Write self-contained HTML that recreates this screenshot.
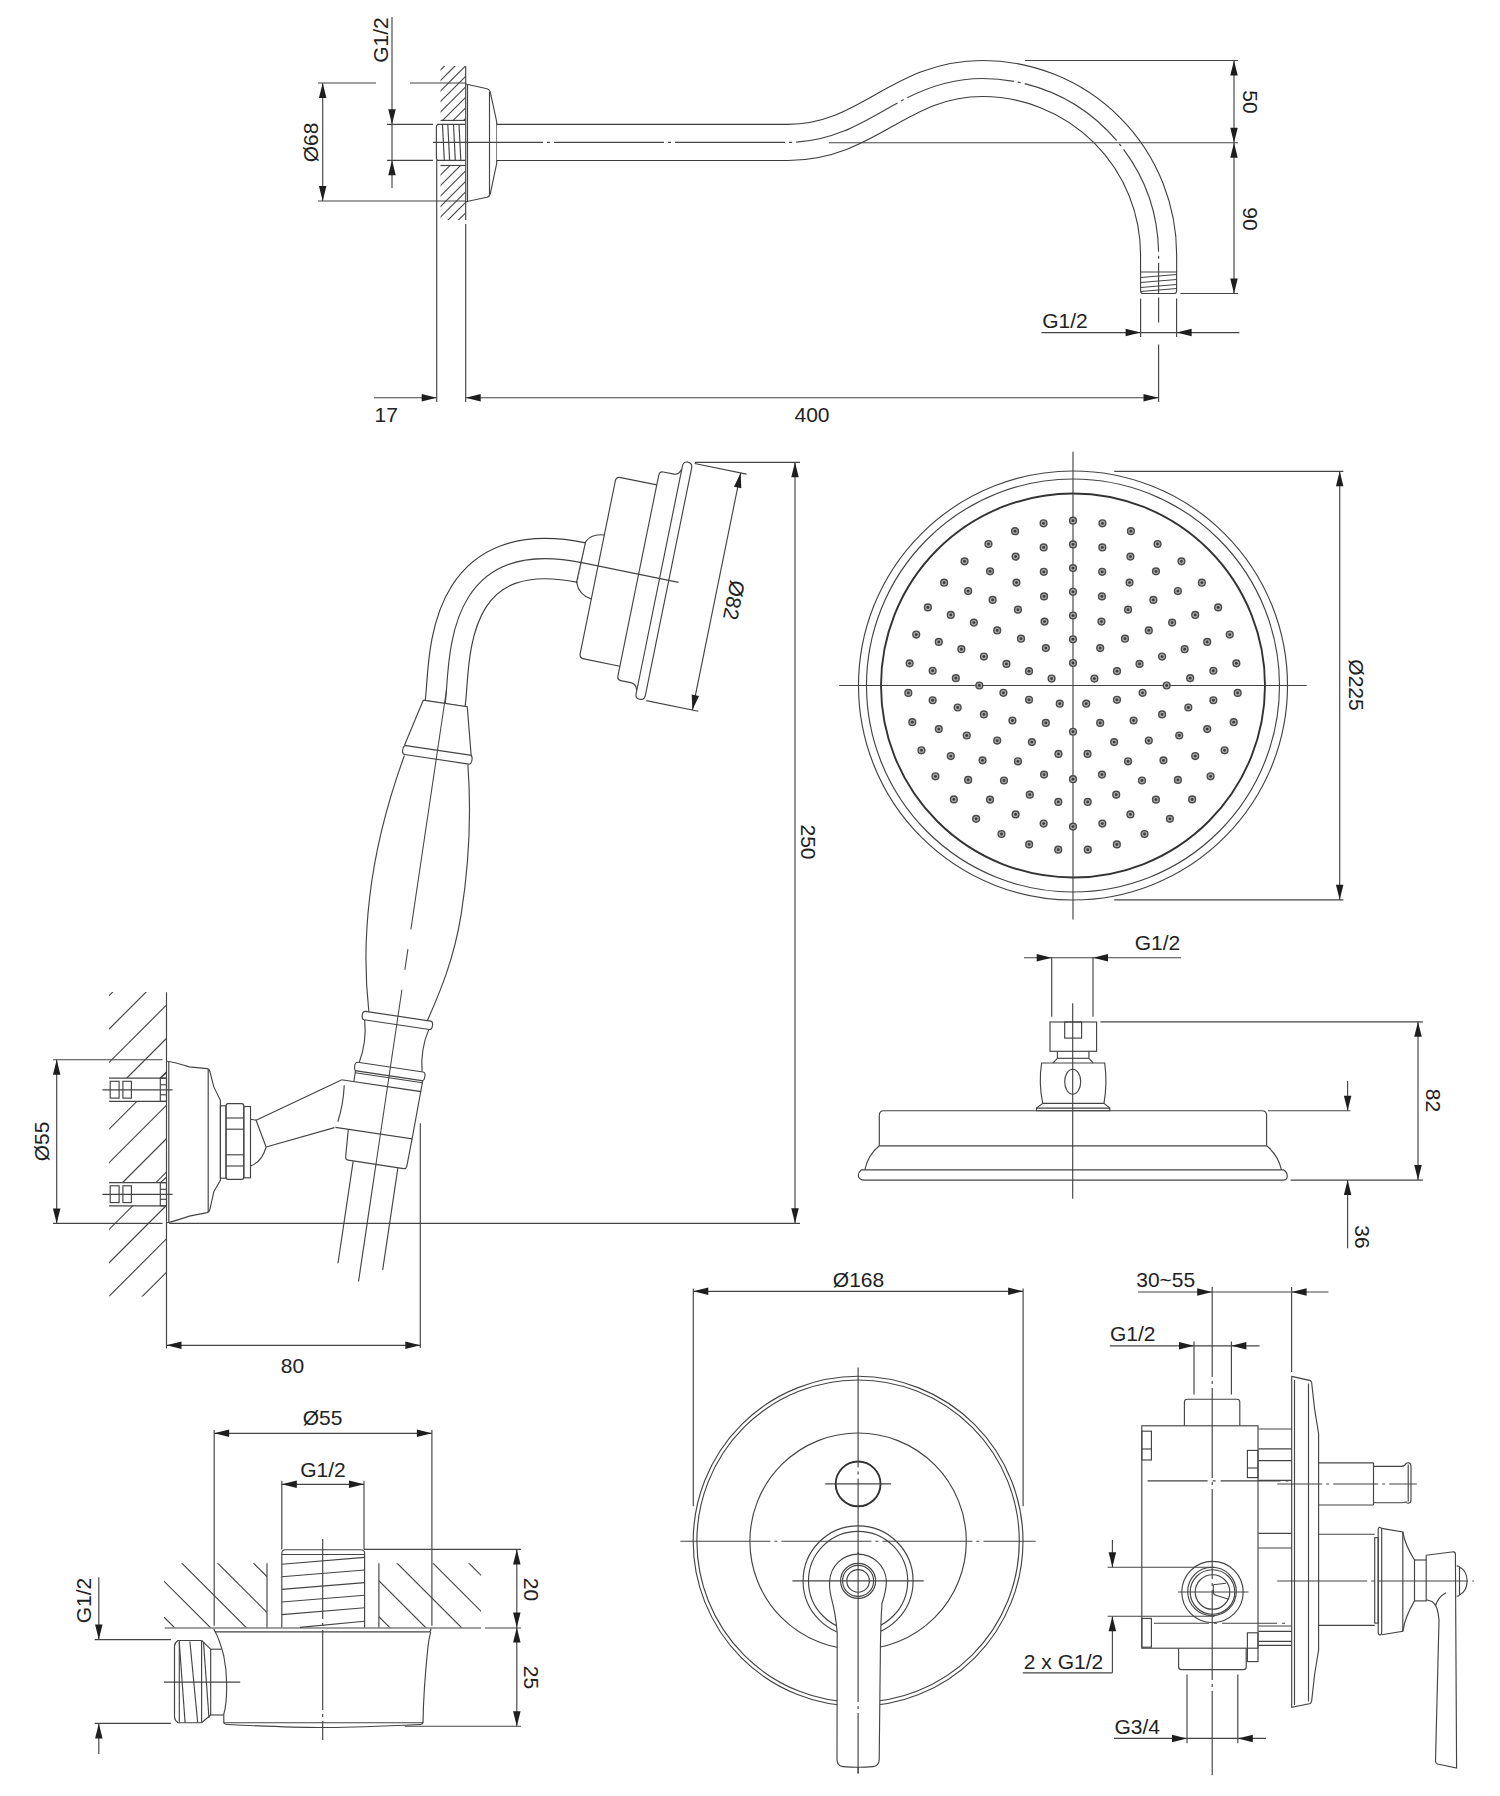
<!DOCTYPE html>
<html><head><meta charset="utf-8"><style>
html,body{margin:0;padding:0;background:#fff;width:1500px;height:1796px;overflow:hidden}
svg{display:block}
line,path,circle,rect,ellipse,polyline{fill:none;stroke:#444;stroke-width:1.15}
.ar{fill:#1e1e1e;stroke:none}
.th{stroke-width:1.9;stroke:#333}
.lt{stroke:#555;stroke-width:1}
.wf{fill:#fff}
.dt{stroke:#4a4a4a;stroke-width:1.4;fill:#a8a8a8}
.dc{fill:#3a3a3a;stroke:none}
text{font-family:"Liberation Sans",sans-serif;fill:#222;stroke:none}
</style></head><body>
<svg width="1500" height="1796" viewBox="0 0 1500 1796">
<text transform="translate(380.00,40.00) rotate(-90)" x="0" y="7.52" font-size="21" text-anchor="middle">G1/2</text>
<line x1="392.00" y1="17.00" x2="392.00" y2="188.00"/>
<path class="ar" d="M392.00,124.30 L388.25,109.30 L395.75,109.30 Z"/>
<path class="ar" d="M392.00,160.30 L395.75,175.30 L388.25,175.30 Z"/>
<line x1="387.00" y1="124.30" x2="433.00" y2="124.30"/>
<line x1="387.00" y1="160.30" x2="433.00" y2="160.30"/>
<text transform="translate(310.50,142.50) rotate(-90)" x="0" y="7.52" font-size="21" text-anchor="middle">Ø68</text>
<line x1="322.70" y1="83.00" x2="322.70" y2="201.00"/>
<path class="ar" d="M322.70,83.00 L326.45,98.00 L318.95,98.00 Z"/>
<path class="ar" d="M322.70,201.00 L318.95,186.00 L326.45,186.00 Z"/>
<line x1="318.00" y1="83.00" x2="376.00" y2="83.00"/>
<line x1="410.00" y1="83.00" x2="466.00" y2="83.00"/>
<line x1="318.00" y1="201.00" x2="466.00" y2="201.00"/>
<line x1="436.70" y1="160.30" x2="436.70" y2="402.00"/>
<line x1="465.70" y1="66.00" x2="465.70" y2="220.00"/>
<line x1="465.70" y1="224.00" x2="465.70" y2="402.00"/>
<line x1="467.50" y1="84.00" x2="467.50" y2="202.00"/>
<clipPath id="h1"><rect x="440.5" y="66" width="25" height="54.5"/><rect x="440.5" y="165.5" width="25" height="54.5"/></clipPath>
<g clip-path="url(#h1)"><line x1="179.0" y1="300" x2="479.0" y2="0"/><line x1="189.5" y1="300" x2="489.5" y2="0"/><line x1="200.0" y1="300" x2="500.0" y2="0"/><line x1="210.5" y1="300" x2="510.5" y2="0"/><line x1="221.0" y1="300" x2="521.0" y2="0"/><line x1="231.5" y1="300" x2="531.5" y2="0"/><line x1="242.0" y1="300" x2="542.0" y2="0"/><line x1="252.5" y1="300" x2="552.5" y2="0"/><line x1="263.0" y1="300" x2="563.0" y2="0"/><line x1="273.5" y1="300" x2="573.5" y2="0"/><line x1="284.0" y1="300" x2="584.0" y2="0"/><line x1="294.5" y1="300" x2="594.5" y2="0"/><line x1="305.0" y1="300" x2="605.0" y2="0"/><line x1="315.5" y1="300" x2="615.5" y2="0"/><line x1="326.0" y1="300" x2="626.0" y2="0"/><line x1="336.5" y1="300" x2="636.5" y2="0"/><line x1="347.0" y1="300" x2="647.0" y2="0"/><line x1="357.5" y1="300" x2="657.5" y2="0"/><line x1="368.0" y1="300" x2="668.0" y2="0"/><line x1="378.5" y1="300" x2="678.5" y2="0"/><line x1="389.0" y1="300" x2="689.0" y2="0"/><line x1="399.5" y1="300" x2="699.5" y2="0"/><line x1="410.0" y1="300" x2="710.0" y2="0"/><line x1="420.5" y1="300" x2="720.5" y2="0"/><line x1="431.0" y1="300" x2="731.0" y2="0"/><line x1="441.5" y1="300" x2="741.5" y2="0"/><line x1="452.0" y1="300" x2="752.0" y2="0"/><line x1="462.5" y1="300" x2="762.5" y2="0"/><line x1="473.0" y1="300" x2="773.0" y2="0"/><line x1="483.5" y1="300" x2="783.5" y2="0"/><line x1="494.0" y1="300" x2="794.0" y2="0"/><line x1="504.5" y1="300" x2="804.5" y2="0"/></g>
<line x1="440.50" y1="120.40" x2="465.70" y2="120.40"/>
<line x1="440.50" y1="165.50" x2="465.70" y2="165.50"/>
<path d="M465.7,84 L487,88.8 Q489.5,89.5 490.2,92 L496.7,121.7 L496.7,163.3 L490.2,194 Q489.5,196.5 487,197.2 L465.7,201.7"/>
<line x1="489.50" y1="92.00" x2="489.50" y2="194.00"/>
<path d="M437.5,124.4 L465.7,124.4 M437.5,160.4 L465.7,160.4 M436.4,127 L436.4,158"/>
<path d="M438,124.4 Q436.4,125 436.4,127 M436.4,158 Q436.4,160 438,160.4"/>
<line x1="442.50" y1="124.40" x2="444.30" y2="160.40"/>
<line x1="447.80" y1="124.40" x2="449.60" y2="160.40"/>
<line x1="453.50" y1="124.40" x2="455.30" y2="160.40"/>
<line x1="459.00" y1="124.40" x2="460.80" y2="160.40"/>
<path d="M496.7,142.4 L788,142.4 C868,142.4 899.3,78.5 982.3,78.5 A176.3,176.3 0 0 1 1158.6,254.8 L1158.6,272" style="stroke:#3c3c3c;stroke-width:37.2"/>
<path d="M496.7,142.4 L788,142.4 C868,142.4 899.3,78.5 982.3,78.5 A176.3,176.3 0 0 1 1158.6,254.8 L1158.6,272" style="stroke:#fff;stroke-width:35"/>
<path d="M433,142.4 L788,142.4 C868,142.4 899.3,78.5 982.3,78.5 A176.3,176.3 0 0 1 1158.6,254.8 L1158.6,293.5" style="stroke-dasharray:110,4,3,4"/>
<line x1="829.00" y1="142.70" x2="1238.00" y2="142.70"/>
<path d="M1140.6,272 L1176.6,272 L1176.6,291 Q1176.6,293.5 1174,293.5 L1143,293.5 Q1140.6,293.5 1140.6,291 Z"/>
<line x1="1140.60" y1="277.50" x2="1176.60" y2="274.50"/>
<line x1="1140.60" y1="282.50" x2="1176.60" y2="279.50"/>
<line x1="1140.60" y1="287.50" x2="1176.60" y2="284.50"/>
<line x1="1140.60" y1="291.50" x2="1176.60" y2="288.50"/>
<line x1="1025.00" y1="60.50" x2="1238.00" y2="60.50"/>
<line x1="1180.50" y1="293.50" x2="1238.00" y2="293.50"/>
<line x1="1234.00" y1="60.50" x2="1234.00" y2="293.50"/>
<path class="ar" d="M1234.00,60.50 L1237.75,75.50 L1230.25,75.50 Z"/>
<path class="ar" d="M1234.00,142.70 L1230.25,127.70 L1237.75,127.70 Z"/>
<path class="ar" d="M1234.00,142.70 L1237.75,157.70 L1230.25,157.70 Z"/>
<path class="ar" d="M1234.00,293.50 L1230.25,278.50 L1237.75,278.50 Z"/>
<text transform="translate(1250.50,102.00) rotate(90)" x="0" y="7.52" font-size="21" text-anchor="middle">50</text>
<text transform="translate(1250.50,219.00) rotate(90)" x="0" y="7.52" font-size="21" text-anchor="middle">90</text>
<line x1="1041.50" y1="332.60" x2="1239.40" y2="332.60"/>
<path class="ar" d="M1140.60,332.60 L1125.60,336.35 L1125.60,328.85 Z"/>
<path class="ar" d="M1176.60,332.60 L1191.60,328.85 L1191.60,336.35 Z"/>
<line x1="1158.60" y1="297.50" x2="1158.60" y2="322.50"/>
<line x1="1158.60" y1="344.50" x2="1158.60" y2="402.00"/>
<text transform="translate(1065.00,320.20) rotate(0)" x="0" y="7.52" font-size="21" text-anchor="middle">G1/2</text>
<line x1="1140.60" y1="298.50" x2="1140.60" y2="337.00"/>
<line x1="1176.60" y1="298.50" x2="1176.60" y2="337.00"/>
<line x1="374.00" y1="397.70" x2="436.70" y2="397.70"/>
<path class="ar" d="M436.70,397.70 L421.70,401.45 L421.70,393.95 Z"/>
<line x1="465.70" y1="397.70" x2="1158.50" y2="397.70"/>
<path class="ar" d="M465.70,397.70 L480.70,393.95 L480.70,401.45 Z"/>
<path class="ar" d="M1158.50,397.70 L1143.50,401.45 L1143.50,393.95 Z"/>
<text transform="translate(386.20,414.00) rotate(0)" x="0" y="7.52" font-size="21" text-anchor="middle">17</text>
<text transform="translate(812.00,414.00) rotate(0)" x="0" y="7.52" font-size="21" text-anchor="middle">400</text>
<line x1="695.00" y1="462.30" x2="800.00" y2="462.30"/>
<line x1="795.00" y1="462.30" x2="795.00" y2="1223.30"/>
<path class="ar" d="M795.00,462.30 L798.75,477.30 L791.25,477.30 Z"/>
<path class="ar" d="M795.00,1223.30 L791.25,1208.30 L798.75,1208.30 Z"/>
<text transform="translate(809.00,842.00) rotate(90)" x="0" y="7.52" font-size="21" text-anchor="middle">250</text>
<line x1="53.00" y1="1223.40" x2="162.50" y2="1223.40"/>
<line x1="169.20" y1="1223.40" x2="800.00" y2="1223.40"/>
<line x1="420.30" y1="1123.30" x2="420.30" y2="1348.00"/>
<line x1="166.50" y1="1345.30" x2="420.30" y2="1345.30"/>
<path class="ar" d="M166.50,1345.30 L181.50,1341.55 L181.50,1349.05 Z"/>
<path class="ar" d="M420.30,1345.30 L405.30,1349.05 L405.30,1341.55 Z"/>
<text transform="translate(292.50,1365.00) rotate(0)" x="0" y="7.52" font-size="21" text-anchor="middle">80</text>
<line x1="53.00" y1="1059.70" x2="162.50" y2="1059.70"/>
<line x1="56.70" y1="1059.70" x2="56.70" y2="1223.40"/>
<path class="ar" d="M56.70,1059.70 L60.45,1074.70 L52.95,1074.70 Z"/>
<path class="ar" d="M56.70,1223.40 L52.95,1208.40 L60.45,1208.40 Z"/>
<text transform="translate(41.00,1141.50) rotate(-90)" x="0" y="7.52" font-size="21" text-anchor="middle">Ø55</text>
<line x1="166.50" y1="992.20" x2="166.50" y2="1348.60"/>
<clipPath id="h2"><path d="M109.1,992 H166.5 V1078 H109.1 Z M109.1,1101.4 H166.5 V1182.2 H109.1 Z M109.1,1205.4 H166.5 V1296.5 H109.1 Z"/></clipPath>
<g clip-path="url(#h2)"><line x1="100.0" y1="1004.7" x2="180.0" y2="924.7"/><line x1="100.0" y1="1038.1" x2="180.0" y2="958.1"/><line x1="100.0" y1="1071.5" x2="180.0" y2="991.5"/><line x1="100.0" y1="1104.9" x2="180.0" y2="1024.9"/><line x1="100.0" y1="1138.3" x2="180.0" y2="1058.3"/><line x1="100.0" y1="1171.7" x2="180.0" y2="1091.7"/><line x1="100.0" y1="1205.1" x2="180.0" y2="1125.1"/><line x1="100.0" y1="1238.5" x2="180.0" y2="1158.5"/><line x1="100.0" y1="1271.9" x2="180.0" y2="1191.9"/><line x1="100.0" y1="1305.3" x2="180.0" y2="1225.3"/><line x1="100.0" y1="1338.7" x2="180.0" y2="1258.7"/></g>
<line x1="109.10" y1="1078.10" x2="166.50" y2="1078.10"/>
<line x1="109.10" y1="1101.40" x2="166.50" y2="1101.40"/>
<line x1="102.40" y1="1089.80" x2="172.60" y2="1089.80"/>
<rect x="110.20" y="1081.30" width="8.90" height="16.80"/>
<rect x="122.90" y="1081.30" width="8.50" height="16.80"/>
<rect x="160.30" y="1078.10" width="6.20" height="23.30"/>
<line x1="160.30" y1="1084.80" x2="166.50" y2="1084.80"/>
<line x1="160.30" y1="1094.80" x2="166.50" y2="1094.80"/>
<line x1="160.30" y1="1078.10" x2="166.50" y2="1072.80"/>
<line x1="109.10" y1="1182.60" x2="166.50" y2="1182.60"/>
<line x1="109.10" y1="1205.90" x2="166.50" y2="1205.90"/>
<line x1="102.40" y1="1194.30" x2="172.60" y2="1194.30"/>
<rect x="110.20" y="1185.80" width="8.90" height="16.80"/>
<rect x="122.90" y="1185.80" width="8.50" height="16.80"/>
<rect x="160.30" y="1182.60" width="6.20" height="23.30"/>
<line x1="160.30" y1="1189.30" x2="166.50" y2="1189.30"/>
<line x1="160.30" y1="1199.30" x2="166.50" y2="1199.30"/>
<line x1="160.30" y1="1182.60" x2="166.50" y2="1177.30"/>
<path d="M167,1061.3 Q172,1061.5 189.3,1066.9 L207.1,1068.6 Q209.5,1069 210,1072 L213.8,1086.9 L220.4,1100.3 L220.4,1180.4 L213.8,1191.6 L210,1209 Q209.5,1212 207.1,1212.6 L189.3,1216.1 Q172,1222 167,1222.8"/>
<line x1="168.80" y1="1062.00" x2="168.80" y2="1222.00"/>
<line x1="208.20" y1="1069.50" x2="208.20" y2="1212.50"/>
<rect x="220.40" y="1105.80" width="5.60" height="72.40"/>
<path d="M228,1103.6 H241.8 Q243.8,1103.6 243.8,1106 V1177 Q243.8,1179.3 241.8,1179.3 H228 Q226,1179.3 226,1177 V1106 Q226,1103.6 228,1103.6 Z"/>
<line x1="226.00" y1="1118.00" x2="243.80" y2="1118.00"/>
<line x1="226.00" y1="1129.20" x2="243.80" y2="1129.20"/>
<line x1="226.00" y1="1154.80" x2="243.80" y2="1154.80"/>
<line x1="226.00" y1="1166.00" x2="243.80" y2="1166.00"/>
<rect x="243.80" y="1106.50" width="6.70" height="71.30"/>
<path d="M250.5,1119.2 Q254,1119.5 256.1,1120.3 L266.1,1147 Q262,1162 250.5,1166"/>
<line x1="256.10" y1="1120.30" x2="341.40" y2="1080.10"/>
<line x1="266.10" y1="1147.00" x2="334.50" y2="1127.60"/>
<path d="M581.6,562.6 C439.7,533.8 450.4,668.2 445.2,703.2" style="stroke:#3c3c3c;stroke-width:41.45"/>
<path d="M581.6,562.6 C439.7,533.8 450.4,668.2 445.2,703.2" style="stroke:#fff;stroke-width:39.15"/>
<path d="M581.6,562.6 C439.7,533.8 450.4,668.2 445.2,703.2"/>
<g transform="translate(668.5,581.7) rotate(11.5)"><path d="M-5,-121 Q0,-121 0,-116 V116 Q0,121 -5,121 Q-9.4,121 -9.4,116 V-116 Q-9.4,-121 -5,-121 Z"/><path d="M-9.4,-113 Q-11.5,-106.5 -16,-106.5 H-27 Q-30.8,-106.5 -30.8,-102 V102 Q-30.8,106.5 -27,106.5 H-16 Q-11.5,106.5 -9.4,113"/><path d="M-30.8,-92.5 H-67.5 Q-72.2,-92.5 -72.2,-88 V88 Q-72.2,92.5 -67.5,92.5 H-30.8"/><path d="M-72.2,-33 Q-85,-32 -89.2,-22.7 L-90,18.9 Q-85,31 -72.2,32.3"/><line x1="-90" y1="-1.4" x2="10" y2="-1.4"/></g>
<g transform="translate(668.5,581.7) rotate(11.5)"><line x1="2" y1="-121" x2="55" y2="-121"/><line x1="2" y1="121" x2="55" y2="121"/><line x1="49" y1="-121" x2="49" y2="121"/></g>
<path class="ar" d="M740.64,472.90 L741.32,488.34 L733.97,486.85 Z"/>
<path class="ar" d="M692.39,710.04 L691.71,694.59 L699.06,696.09 Z"/>
<text transform="translate(734.14,600.16) rotate(101.5)" x="0" y="7.52" font-size="21" text-anchor="middle">Ø82</text>
<g transform="translate(446.5,690) rotate(8.46)"><path d="M-21.5,13.5 L23,13.5 L34,61 M-21.5,13.5 L-33.5,61"/><path d="M-32,61 H33 Q35.5,61 35.5,65.5 Q35.5,70 33,70 H-32 Q-34.5,70 -34.5,65.5 Q-34.5,61 -32,61 Z"/><path d="M-32,71 C-42,120 -47,170 -45.5,216 C-44,270 -36,305 -29.5,329.5"/><path d="M32.2,71 C42,115 48,170 47.5,220 C47,265 38,300 29.8,329.5"/><path d="M-33,329.8 H33 Q35.5,329.8 35.5,334 Q35.5,338.3 33,338.3 H-33 Q-35.5,338.3 -35.5,334 Q-35.5,329.8 -33,329.8 Z"/><path d="M-32.4,338.3 Q-27,360 -31.5,381 M32.4,338.3 Q27,360 32,381"/><path d="M-33,381.3 H33 Q35.5,381.3 35.5,385.5 Q35.5,390 33,390 H-33 Q-35.5,390 -35.5,385.5 Q-35.5,381.3 -33,381.3 Z"/><line x1="-34" y1="392" x2="34" y2="392"/><path d="M-34,390 V401 M34,390 L33.6,401"/><path d="M-46.6,401 L33.6,401 L32,449 L-45.5,449"/><path d="M-43,406 Q-41,425 -44,443"/><path d="M-32.5,449 L-31.1,476 Q-31,479.5 -28,479.5 L28,479.7 Q30.5,479.7 30.8,477 L32,449"/><path d="M-23,480 V583 M22.2,480 V583 M0,480 V598"/><path d="M0,0 V242 M0,262 V283 M0,303 V480" style="stroke-width:1.05"/></g>
<circle cx="1073.00" cy="685.50" r="214.50"/>
<circle cx="1073.00" cy="685.50" r="206.50"/>
<circle cx="1073.00" cy="685.50" r="192.00" class="th"/>
<line x1="839.20" y1="685.50" x2="1306.70" y2="685.50"/>
<line x1="1073.00" y1="451.80" x2="1073.00" y2="919.40"/>
<line x1="1114.20" y1="471.30" x2="1343.40" y2="471.30"/>
<line x1="1114.20" y1="899.80" x2="1343.40" y2="899.80"/>
<line x1="1339.70" y1="471.30" x2="1339.70" y2="899.80"/>
<path class="ar" d="M1339.70,471.30 L1343.45,486.30 L1335.95,486.30 Z"/>
<path class="ar" d="M1339.70,899.80 L1335.95,884.80 L1343.45,884.80 Z"/>
<text transform="translate(1356.50,685.00) rotate(90)" x="0" y="7.52" font-size="21" text-anchor="middle">Ø225</text>
<g><circle cx="1094.42" cy="678.54" r="3.4" class="dt"/><circle cx="1094.42" cy="678.54" r="1.4" class="dc"/><circle cx="1073.00" cy="662.98" r="3.4" class="dt"/><circle cx="1073.00" cy="662.98" r="1.4" class="dc"/><circle cx="1051.58" cy="678.54" r="3.4" class="dt"/><circle cx="1051.58" cy="678.54" r="1.4" class="dc"/><circle cx="1059.76" cy="703.72" r="3.4" class="dt"/><circle cx="1059.76" cy="703.72" r="1.4" class="dc"/><circle cx="1086.24" cy="703.72" r="3.4" class="dt"/><circle cx="1086.24" cy="703.72" r="1.4" class="dc"/><circle cx="1116.98" cy="671.21" r="3.4" class="dt"/><circle cx="1116.98" cy="671.21" r="1.4" class="dc"/><circle cx="1100.18" cy="648.09" r="3.4" class="dt"/><circle cx="1100.18" cy="648.09" r="1.4" class="dc"/><circle cx="1073.00" cy="639.26" r="3.4" class="dt"/><circle cx="1073.00" cy="639.26" r="1.4" class="dc"/><circle cx="1045.82" cy="648.09" r="3.4" class="dt"/><circle cx="1045.82" cy="648.09" r="1.4" class="dc"/><circle cx="1029.02" cy="671.21" r="3.4" class="dt"/><circle cx="1029.02" cy="671.21" r="1.4" class="dc"/><circle cx="1029.02" cy="699.79" r="3.4" class="dt"/><circle cx="1029.02" cy="699.79" r="1.4" class="dc"/><circle cx="1045.82" cy="722.91" r="3.4" class="dt"/><circle cx="1045.82" cy="722.91" r="1.4" class="dc"/><circle cx="1073.00" cy="731.74" r="3.4" class="dt"/><circle cx="1073.00" cy="731.74" r="1.4" class="dc"/><circle cx="1100.18" cy="722.91" r="3.4" class="dt"/><circle cx="1100.18" cy="722.91" r="1.4" class="dc"/><circle cx="1116.98" cy="699.79" r="3.4" class="dt"/><circle cx="1116.98" cy="699.79" r="1.4" class="dc"/><circle cx="1139.54" cy="663.88" r="3.4" class="dt"/><circle cx="1139.54" cy="663.88" r="1.4" class="dc"/><circle cx="1124.99" cy="638.69" r="3.4" class="dt"/><circle cx="1124.99" cy="638.69" r="1.4" class="dc"/><circle cx="1101.46" cy="621.59" r="3.4" class="dt"/><circle cx="1101.46" cy="621.59" r="1.4" class="dc"/><circle cx="1073.00" cy="615.54" r="3.4" class="dt"/><circle cx="1073.00" cy="615.54" r="1.4" class="dc"/><circle cx="1044.54" cy="621.59" r="3.4" class="dt"/><circle cx="1044.54" cy="621.59" r="1.4" class="dc"/><circle cx="1021.01" cy="638.69" r="3.4" class="dt"/><circle cx="1021.01" cy="638.69" r="1.4" class="dc"/><circle cx="1006.46" cy="663.88" r="3.4" class="dt"/><circle cx="1006.46" cy="663.88" r="1.4" class="dc"/><circle cx="1003.42" cy="692.81" r="3.4" class="dt"/><circle cx="1003.42" cy="692.81" r="1.4" class="dc"/><circle cx="1012.41" cy="720.48" r="3.4" class="dt"/><circle cx="1012.41" cy="720.48" r="1.4" class="dc"/><circle cx="1031.88" cy="742.10" r="3.4" class="dt"/><circle cx="1031.88" cy="742.10" r="1.4" class="dc"/><circle cx="1058.45" cy="753.93" r="3.4" class="dt"/><circle cx="1058.45" cy="753.93" r="1.4" class="dc"/><circle cx="1087.55" cy="753.93" r="3.4" class="dt"/><circle cx="1087.55" cy="753.93" r="1.4" class="dc"/><circle cx="1114.12" cy="742.10" r="3.4" class="dt"/><circle cx="1114.12" cy="742.10" r="1.4" class="dc"/><circle cx="1133.59" cy="720.48" r="3.4" class="dt"/><circle cx="1133.59" cy="720.48" r="1.4" class="dc"/><circle cx="1142.58" cy="692.81" r="3.4" class="dt"/><circle cx="1142.58" cy="692.81" r="1.4" class="dc"/><circle cx="1162.09" cy="656.55" r="3.4" class="dt"/><circle cx="1162.09" cy="656.55" r="1.4" class="dc"/><circle cx="1148.79" cy="630.44" r="3.4" class="dt"/><circle cx="1148.79" cy="630.44" r="1.4" class="dc"/><circle cx="1128.06" cy="609.71" r="3.4" class="dt"/><circle cx="1128.06" cy="609.71" r="1.4" class="dc"/><circle cx="1101.95" cy="596.41" r="3.4" class="dt"/><circle cx="1101.95" cy="596.41" r="1.4" class="dc"/><circle cx="1073.00" cy="591.82" r="3.4" class="dt"/><circle cx="1073.00" cy="591.82" r="1.4" class="dc"/><circle cx="1044.05" cy="596.41" r="3.4" class="dt"/><circle cx="1044.05" cy="596.41" r="1.4" class="dc"/><circle cx="1017.94" cy="609.71" r="3.4" class="dt"/><circle cx="1017.94" cy="609.71" r="1.4" class="dc"/><circle cx="997.21" cy="630.44" r="3.4" class="dt"/><circle cx="997.21" cy="630.44" r="1.4" class="dc"/><circle cx="983.91" cy="656.55" r="3.4" class="dt"/><circle cx="983.91" cy="656.55" r="1.4" class="dc"/><circle cx="979.32" cy="685.50" r="3.4" class="dt"/><circle cx="979.32" cy="685.50" r="1.4" class="dc"/><circle cx="983.91" cy="714.45" r="3.4" class="dt"/><circle cx="983.91" cy="714.45" r="1.4" class="dc"/><circle cx="997.21" cy="740.56" r="3.4" class="dt"/><circle cx="997.21" cy="740.56" r="1.4" class="dc"/><circle cx="1017.94" cy="761.29" r="3.4" class="dt"/><circle cx="1017.94" cy="761.29" r="1.4" class="dc"/><circle cx="1044.05" cy="774.59" r="3.4" class="dt"/><circle cx="1044.05" cy="774.59" r="1.4" class="dc"/><circle cx="1073.00" cy="779.18" r="3.4" class="dt"/><circle cx="1073.00" cy="779.18" r="1.4" class="dc"/><circle cx="1101.95" cy="774.59" r="3.4" class="dt"/><circle cx="1101.95" cy="774.59" r="1.4" class="dc"/><circle cx="1128.06" cy="761.29" r="3.4" class="dt"/><circle cx="1128.06" cy="761.29" r="1.4" class="dc"/><circle cx="1148.79" cy="740.56" r="3.4" class="dt"/><circle cx="1148.79" cy="740.56" r="1.4" class="dc"/><circle cx="1162.09" cy="714.45" r="3.4" class="dt"/><circle cx="1162.09" cy="714.45" r="1.4" class="dc"/><circle cx="1166.68" cy="685.50" r="3.4" class="dt"/><circle cx="1166.68" cy="685.50" r="1.4" class="dc"/><circle cx="1184.65" cy="649.22" r="3.4" class="dt"/><circle cx="1184.65" cy="649.22" r="1.4" class="dc"/><circle cx="1172.12" cy="622.59" r="3.4" class="dt"/><circle cx="1172.12" cy="622.59" r="1.4" class="dc"/><circle cx="1153.37" cy="599.92" r="3.4" class="dt"/><circle cx="1153.37" cy="599.92" r="1.4" class="dc"/><circle cx="1129.56" cy="582.62" r="3.4" class="dt"/><circle cx="1129.56" cy="582.62" r="1.4" class="dc"/><circle cx="1102.20" cy="571.79" r="3.4" class="dt"/><circle cx="1102.20" cy="571.79" r="1.4" class="dc"/><circle cx="1073.00" cy="568.10" r="3.4" class="dt"/><circle cx="1073.00" cy="568.10" r="1.4" class="dc"/><circle cx="1043.80" cy="571.79" r="3.4" class="dt"/><circle cx="1043.80" cy="571.79" r="1.4" class="dc"/><circle cx="1016.44" cy="582.62" r="3.4" class="dt"/><circle cx="1016.44" cy="582.62" r="1.4" class="dc"/><circle cx="992.63" cy="599.92" r="3.4" class="dt"/><circle cx="992.63" cy="599.92" r="1.4" class="dc"/><circle cx="973.88" cy="622.59" r="3.4" class="dt"/><circle cx="973.88" cy="622.59" r="1.4" class="dc"/><circle cx="961.35" cy="649.22" r="3.4" class="dt"/><circle cx="961.35" cy="649.22" r="1.4" class="dc"/><circle cx="955.83" cy="678.13" r="3.4" class="dt"/><circle cx="955.83" cy="678.13" r="1.4" class="dc"/><circle cx="957.68" cy="707.50" r="3.4" class="dt"/><circle cx="957.68" cy="707.50" r="1.4" class="dc"/><circle cx="966.77" cy="735.49" r="3.4" class="dt"/><circle cx="966.77" cy="735.49" r="1.4" class="dc"/><circle cx="982.54" cy="760.33" r="3.4" class="dt"/><circle cx="982.54" cy="760.33" r="1.4" class="dc"/><circle cx="1003.99" cy="780.48" r="3.4" class="dt"/><circle cx="1003.99" cy="780.48" r="1.4" class="dc"/><circle cx="1029.78" cy="794.66" r="3.4" class="dt"/><circle cx="1029.78" cy="794.66" r="1.4" class="dc"/><circle cx="1058.29" cy="801.97" r="3.4" class="dt"/><circle cx="1058.29" cy="801.97" r="1.4" class="dc"/><circle cx="1087.71" cy="801.97" r="3.4" class="dt"/><circle cx="1087.71" cy="801.97" r="1.4" class="dc"/><circle cx="1116.22" cy="794.66" r="3.4" class="dt"/><circle cx="1116.22" cy="794.66" r="1.4" class="dc"/><circle cx="1142.01" cy="780.48" r="3.4" class="dt"/><circle cx="1142.01" cy="780.48" r="1.4" class="dc"/><circle cx="1163.46" cy="760.33" r="3.4" class="dt"/><circle cx="1163.46" cy="760.33" r="1.4" class="dc"/><circle cx="1179.23" cy="735.49" r="3.4" class="dt"/><circle cx="1179.23" cy="735.49" r="1.4" class="dc"/><circle cx="1188.32" cy="707.50" r="3.4" class="dt"/><circle cx="1188.32" cy="707.50" r="1.4" class="dc"/><circle cx="1190.17" cy="678.13" r="3.4" class="dt"/><circle cx="1190.17" cy="678.13" r="1.4" class="dc"/><circle cx="1207.21" cy="641.89" r="3.4" class="dt"/><circle cx="1207.21" cy="641.89" r="1.4" class="dc"/><circle cx="1195.21" cy="614.94" r="3.4" class="dt"/><circle cx="1195.21" cy="614.94" r="1.4" class="dc"/><circle cx="1177.87" cy="591.07" r="3.4" class="dt"/><circle cx="1177.87" cy="591.07" r="1.4" class="dc"/><circle cx="1155.95" cy="571.33" r="3.4" class="dt"/><circle cx="1155.95" cy="571.33" r="1.4" class="dc"/><circle cx="1130.40" cy="556.58" r="3.4" class="dt"/><circle cx="1130.40" cy="556.58" r="1.4" class="dc"/><circle cx="1102.34" cy="547.46" r="3.4" class="dt"/><circle cx="1102.34" cy="547.46" r="1.4" class="dc"/><circle cx="1073.00" cy="544.38" r="3.4" class="dt"/><circle cx="1073.00" cy="544.38" r="1.4" class="dc"/><circle cx="1043.66" cy="547.46" r="3.4" class="dt"/><circle cx="1043.66" cy="547.46" r="1.4" class="dc"/><circle cx="1015.60" cy="556.58" r="3.4" class="dt"/><circle cx="1015.60" cy="556.58" r="1.4" class="dc"/><circle cx="990.05" cy="571.33" r="3.4" class="dt"/><circle cx="990.05" cy="571.33" r="1.4" class="dc"/><circle cx="968.13" cy="591.07" r="3.4" class="dt"/><circle cx="968.13" cy="591.07" r="1.4" class="dc"/><circle cx="950.79" cy="614.94" r="3.4" class="dt"/><circle cx="950.79" cy="614.94" r="1.4" class="dc"/><circle cx="938.79" cy="641.89" r="3.4" class="dt"/><circle cx="938.79" cy="641.89" r="1.4" class="dc"/><circle cx="932.65" cy="670.75" r="3.4" class="dt"/><circle cx="932.65" cy="670.75" r="1.4" class="dc"/><circle cx="932.65" cy="700.25" r="3.4" class="dt"/><circle cx="932.65" cy="700.25" r="1.4" class="dc"/><circle cx="938.79" cy="729.11" r="3.4" class="dt"/><circle cx="938.79" cy="729.11" r="1.4" class="dc"/><circle cx="950.79" cy="756.06" r="3.4" class="dt"/><circle cx="950.79" cy="756.06" r="1.4" class="dc"/><circle cx="968.13" cy="779.93" r="3.4" class="dt"/><circle cx="968.13" cy="779.93" r="1.4" class="dc"/><circle cx="990.05" cy="799.67" r="3.4" class="dt"/><circle cx="990.05" cy="799.67" r="1.4" class="dc"/><circle cx="1015.60" cy="814.42" r="3.4" class="dt"/><circle cx="1015.60" cy="814.42" r="1.4" class="dc"/><circle cx="1043.66" cy="823.54" r="3.4" class="dt"/><circle cx="1043.66" cy="823.54" r="1.4" class="dc"/><circle cx="1073.00" cy="826.62" r="3.4" class="dt"/><circle cx="1073.00" cy="826.62" r="1.4" class="dc"/><circle cx="1102.34" cy="823.54" r="3.4" class="dt"/><circle cx="1102.34" cy="823.54" r="1.4" class="dc"/><circle cx="1130.40" cy="814.42" r="3.4" class="dt"/><circle cx="1130.40" cy="814.42" r="1.4" class="dc"/><circle cx="1155.95" cy="799.67" r="3.4" class="dt"/><circle cx="1155.95" cy="799.67" r="1.4" class="dc"/><circle cx="1177.87" cy="779.93" r="3.4" class="dt"/><circle cx="1177.87" cy="779.93" r="1.4" class="dc"/><circle cx="1195.21" cy="756.06" r="3.4" class="dt"/><circle cx="1195.21" cy="756.06" r="1.4" class="dc"/><circle cx="1207.21" cy="729.11" r="3.4" class="dt"/><circle cx="1207.21" cy="729.11" r="1.4" class="dc"/><circle cx="1213.35" cy="700.25" r="3.4" class="dt"/><circle cx="1213.35" cy="700.25" r="1.4" class="dc"/><circle cx="1213.35" cy="670.75" r="3.4" class="dt"/><circle cx="1213.35" cy="670.75" r="1.4" class="dc"/><circle cx="1229.77" cy="634.56" r="3.4" class="dt"/><circle cx="1229.77" cy="634.56" r="1.4" class="dc"/><circle cx="1218.16" cy="607.39" r="3.4" class="dt"/><circle cx="1218.16" cy="607.39" r="1.4" class="dc"/><circle cx="1201.88" cy="582.72" r="3.4" class="dt"/><circle cx="1201.88" cy="582.72" r="1.4" class="dc"/><circle cx="1181.45" cy="561.36" r="3.4" class="dt"/><circle cx="1181.45" cy="561.36" r="1.4" class="dc"/><circle cx="1157.55" cy="543.99" r="3.4" class="dt"/><circle cx="1157.55" cy="543.99" r="1.4" class="dc"/><circle cx="1130.92" cy="531.17" r="3.4" class="dt"/><circle cx="1130.92" cy="531.17" r="1.4" class="dc"/><circle cx="1102.43" cy="523.31" r="3.4" class="dt"/><circle cx="1102.43" cy="523.31" r="1.4" class="dc"/><circle cx="1073.00" cy="520.66" r="3.4" class="dt"/><circle cx="1073.00" cy="520.66" r="1.4" class="dc"/><circle cx="1043.57" cy="523.31" r="3.4" class="dt"/><circle cx="1043.57" cy="523.31" r="1.4" class="dc"/><circle cx="1015.08" cy="531.17" r="3.4" class="dt"/><circle cx="1015.08" cy="531.17" r="1.4" class="dc"/><circle cx="988.45" cy="543.99" r="3.4" class="dt"/><circle cx="988.45" cy="543.99" r="1.4" class="dc"/><circle cx="964.55" cy="561.36" r="3.4" class="dt"/><circle cx="964.55" cy="561.36" r="1.4" class="dc"/><circle cx="944.12" cy="582.72" r="3.4" class="dt"/><circle cx="944.12" cy="582.72" r="1.4" class="dc"/><circle cx="927.84" cy="607.39" r="3.4" class="dt"/><circle cx="927.84" cy="607.39" r="1.4" class="dc"/><circle cx="916.23" cy="634.56" r="3.4" class="dt"/><circle cx="916.23" cy="634.56" r="1.4" class="dc"/><circle cx="909.65" cy="663.37" r="3.4" class="dt"/><circle cx="909.65" cy="663.37" r="1.4" class="dc"/><circle cx="908.33" cy="692.90" r="3.4" class="dt"/><circle cx="908.33" cy="692.90" r="1.4" class="dc"/><circle cx="912.29" cy="722.18" r="3.4" class="dt"/><circle cx="912.29" cy="722.18" r="1.4" class="dc"/><circle cx="921.43" cy="750.29" r="3.4" class="dt"/><circle cx="921.43" cy="750.29" r="1.4" class="dc"/><circle cx="935.43" cy="776.31" r="3.4" class="dt"/><circle cx="935.43" cy="776.31" r="1.4" class="dc"/><circle cx="953.85" cy="799.41" r="3.4" class="dt"/><circle cx="953.85" cy="799.41" r="1.4" class="dc"/><circle cx="976.11" cy="818.86" r="3.4" class="dt"/><circle cx="976.11" cy="818.86" r="1.4" class="dc"/><circle cx="1001.48" cy="834.02" r="3.4" class="dt"/><circle cx="1001.48" cy="834.02" r="1.4" class="dc"/><circle cx="1029.15" cy="844.40" r="3.4" class="dt"/><circle cx="1029.15" cy="844.40" r="1.4" class="dc"/><circle cx="1058.22" cy="849.68" r="3.4" class="dt"/><circle cx="1058.22" cy="849.68" r="1.4" class="dc"/><circle cx="1087.78" cy="849.68" r="3.4" class="dt"/><circle cx="1087.78" cy="849.68" r="1.4" class="dc"/><circle cx="1116.85" cy="844.40" r="3.4" class="dt"/><circle cx="1116.85" cy="844.40" r="1.4" class="dc"/><circle cx="1144.52" cy="834.02" r="3.4" class="dt"/><circle cx="1144.52" cy="834.02" r="1.4" class="dc"/><circle cx="1169.89" cy="818.86" r="3.4" class="dt"/><circle cx="1169.89" cy="818.86" r="1.4" class="dc"/><circle cx="1192.15" cy="799.41" r="3.4" class="dt"/><circle cx="1192.15" cy="799.41" r="1.4" class="dc"/><circle cx="1210.57" cy="776.31" r="3.4" class="dt"/><circle cx="1210.57" cy="776.31" r="1.4" class="dc"/><circle cx="1224.57" cy="750.29" r="3.4" class="dt"/><circle cx="1224.57" cy="750.29" r="1.4" class="dc"/><circle cx="1233.71" cy="722.18" r="3.4" class="dt"/><circle cx="1233.71" cy="722.18" r="1.4" class="dc"/><circle cx="1237.67" cy="692.90" r="3.4" class="dt"/><circle cx="1237.67" cy="692.90" r="1.4" class="dc"/><circle cx="1236.35" cy="663.37" r="3.4" class="dt"/><circle cx="1236.35" cy="663.37" r="1.4" class="dc"/></g>
<line x1="1024.00" y1="957.70" x2="1181.00" y2="957.70"/>
<path class="ar" d="M1051.70,957.70 L1036.70,961.45 L1036.70,953.95 Z"/>
<path class="ar" d="M1093.00,957.70 L1108.00,953.95 L1108.00,961.45 Z"/>
<text transform="translate(1157.50,942.50) rotate(0)" x="0" y="7.52" font-size="21" text-anchor="middle">G1/2</text>
<line x1="1051.70" y1="957.00" x2="1051.70" y2="1016.80"/>
<line x1="1093.00" y1="957.00" x2="1093.00" y2="1016.80"/>
<rect x="1050.00" y="1022.00" width="46.60" height="29.30"/>
<rect x="1064.70" y="1022.00" width="16.90" height="16.10"/>
<path d="M1057.4,1051.3 V1058.3 L1053,1063 M1088.9,1051.3 V1058.3 L1093.3,1063"/>
<line x1="1057.40" y1="1058.30" x2="1088.90" y2="1058.30"/>
<path d="M1041.6,1063 H1104.7 Q1107.5,1083 1104,1103.4 H1042.7 Q1038.5,1083 1041.6,1063 Z"/>
<ellipse cx="1072.7" cy="1081.7" rx="8" ry="12.5"/>
<path d="M1042.7,1103.4 L1036.5,1108.1 V1110.7 H1109.8 V1108.1 L1104,1103.4"/>
<line x1="1036.50" y1="1108.10" x2="1109.80" y2="1108.10"/>
<path d="M879.3,1145.8 V1115.5 Q879.3,1110.7 884,1110.7 H1262 Q1266.6,1110.7 1266.6,1115.5 V1145.8"/>
<line x1="879.30" y1="1145.80" x2="1266.60" y2="1145.80"/>
<path d="M879.3,1145.8 Q868,1155 864.8,1169.8 M1266.6,1145.8 Q1278,1155 1281.5,1169.8"/>
<line x1="864.80" y1="1169.80" x2="1281.50" y2="1169.80"/>
<path d="M864.8,1169.8 H861.5 Q857.5,1173 858.6,1177 Q860,1180.1 864,1180.1 H1283 Q1287.3,1180.1 1287.3,1176 Q1287,1172 1283.5,1169.8 H1281.5"/>
<line x1="1072.70" y1="1003.30" x2="1072.70" y2="1198.70"/>
<line x1="1100.40" y1="1021.80" x2="1422.90" y2="1021.80"/>
<line x1="1267.90" y1="1110.70" x2="1350.50" y2="1110.70"/>
<line x1="1290.60" y1="1180.10" x2="1422.90" y2="1180.10"/>
<line x1="1418.00" y1="1021.80" x2="1418.00" y2="1180.10"/>
<path class="ar" d="M1418.00,1021.80 L1421.75,1036.80 L1414.25,1036.80 Z"/>
<path class="ar" d="M1418.00,1180.10 L1414.25,1165.10 L1421.75,1165.10 Z"/>
<text transform="translate(1433.50,1100.50) rotate(90)" x="0" y="7.52" font-size="21" text-anchor="middle">82</text>
<line x1="1347.60" y1="1080.90" x2="1347.60" y2="1110.70"/>
<path class="ar" d="M1347.60,1110.70 L1343.85,1095.70 L1351.35,1095.70 Z"/>
<line x1="1347.60" y1="1180.10" x2="1347.60" y2="1248.30"/>
<path class="ar" d="M1347.60,1180.10 L1351.35,1195.10 L1343.85,1195.10 Z"/>
<text transform="translate(1363.00,1237.00) rotate(90)" x="0" y="7.52" font-size="21" text-anchor="middle">36</text>
<line x1="214.20" y1="1433.30" x2="431.90" y2="1433.30"/>
<path class="ar" d="M214.20,1433.30 L229.20,1429.55 L229.20,1437.05 Z"/>
<path class="ar" d="M431.90,1433.30 L416.90,1437.05 L416.90,1429.55 Z"/>
<text transform="translate(322.50,1417.80) rotate(0)" x="0" y="7.52" font-size="21" text-anchor="middle">Ø55</text>
<line x1="214.20" y1="1430.00" x2="214.20" y2="1625.70"/>
<line x1="431.90" y1="1430.00" x2="431.90" y2="1625.70"/>
<line x1="281.80" y1="1484.30" x2="364.00" y2="1484.30"/>
<path class="ar" d="M281.80,1484.30 L296.80,1480.55 L296.80,1488.05 Z"/>
<path class="ar" d="M364.00,1484.30 L349.00,1488.05 L349.00,1480.55 Z"/>
<text transform="translate(323.00,1469.70) rotate(0)" x="0" y="7.52" font-size="21" text-anchor="middle">G1/2</text>
<line x1="281.80" y1="1480.80" x2="281.80" y2="1549.40"/>
<line x1="364.00" y1="1480.80" x2="364.00" y2="1549.40"/>
<clipPath id="h3"><path d="M164,1563.3 H267 V1627.4 H164 Z M378.9,1563.3 H481 V1627.4 H378.9 Z"/></clipPath>
<g clip-path="url(#h3)"><line x1="150" y1="1603.1" x2="500" y2="1953.1"/><line x1="150" y1="1567.2" x2="500" y2="1917.2"/><line x1="150" y1="1531.3" x2="500" y2="1881.3"/><line x1="150" y1="1495.5" x2="500" y2="1845.5"/><line x1="150" y1="1459.6" x2="500" y2="1809.6"/><line x1="150" y1="1423.7" x2="500" y2="1773.7"/><line x1="150" y1="1387.8" x2="500" y2="1737.8"/><line x1="150" y1="1351.9" x2="500" y2="1701.9"/><line x1="150" y1="1316.1" x2="500" y2="1666.1"/><line x1="150" y1="1280.2" x2="500" y2="1630.2"/><line x1="150" y1="1244.3" x2="500" y2="1594.3"/><line x1="150" y1="1208.4" x2="500" y2="1558.4"/></g>
<line x1="267.00" y1="1563.30" x2="267.00" y2="1627.40"/>
<line x1="378.90" y1="1563.30" x2="378.90" y2="1627.40"/>
<line x1="164.80" y1="1628.00" x2="481.00" y2="1628.00"/>
<line x1="485.00" y1="1628.00" x2="521.00" y2="1628.00"/>
<path d="M281.8,1627.4 V1553 Q281.8,1549.7 285.5,1549.7 H360.5 Q364.6,1549.7 364.6,1553 V1627.4"/>
<line x1="281.80" y1="1554.50" x2="364.60" y2="1554.50"/>
<line x1="281.80" y1="1564.20" x2="364.60" y2="1557.40"/>
<line x1="281.80" y1="1576.80" x2="364.60" y2="1570.00"/>
<line x1="281.80" y1="1589.40" x2="364.60" y2="1582.60"/>
<line x1="281.80" y1="1602.00" x2="364.60" y2="1595.20"/>
<line x1="281.80" y1="1614.60" x2="364.60" y2="1607.80"/>
<line x1="300.00" y1="1627.40" x2="364.60" y2="1621.20"/>
<line x1="364.00" y1="1549.40" x2="521.00" y2="1549.40"/>
<line x1="404.90" y1="1726.20" x2="521.00" y2="1726.20"/>
<line x1="516.80" y1="1549.40" x2="516.80" y2="1726.20"/>
<path class="ar" d="M516.80,1549.40 L520.55,1564.40 L513.05,1564.40 Z"/>
<path class="ar" d="M516.80,1627.40 L513.05,1612.40 L520.55,1612.40 Z"/>
<path class="ar" d="M516.80,1627.40 L520.55,1642.40 L513.05,1642.40 Z"/>
<path class="ar" d="M516.80,1726.20 L513.05,1711.20 L520.55,1711.20 Z"/>
<text transform="translate(532.00,1589.50) rotate(90)" x="0" y="7.52" font-size="21" text-anchor="middle">20</text>
<text transform="translate(532.00,1677.50) rotate(90)" x="0" y="7.52" font-size="21" text-anchor="middle">25</text>
<path d="M214.1,1628.6 Q214.3,1631.8 216,1631.8 H429 Q430.7,1631.8 430.9,1628.6"/>
<path d="M215.1,1631.8 Q219,1638 223.8,1656 Q226.7,1670 226.7,1685 Q226.7,1705 223.8,1714 V1722.7 H423 Q423.5,1690 427.8,1648.3 Q428.5,1640 430.7,1631.8"/>
<path d="M223.8,1722.7 Q225,1724.5 227,1724.5 Q300,1727.8 323.4,1727.5 Q350,1727.8 420,1724.5 Q422.5,1724.5 423,1722.7"/>
<path d="M201.6,1640.5 H178 Q174.5,1643 174.5,1646 V1717 Q174.5,1720 178,1722.7 H201.6"/>
<line x1="179.30" y1="1641.00" x2="179.30" y2="1722.20"/>
<line x1="201.60" y1="1640.50" x2="201.60" y2="1722.70"/>
<path d="M201.6,1640.5 L210.7,1649.2 V1715 L201.6,1722.7"/>
<line x1="210.70" y1="1649.20" x2="221.50" y2="1649.20"/>
<line x1="210.70" y1="1715.00" x2="223.80" y2="1715.00"/>
<line x1="179.30" y1="1642.50" x2="185.10" y2="1722.70"/>
<line x1="189.90" y1="1641.50" x2="197.70" y2="1722.70"/>
<line x1="203.50" y1="1642.50" x2="209.00" y2="1718.00"/>
<line x1="163.90" y1="1682.10" x2="240.20" y2="1682.10"/>
<line x1="94.70" y1="1639.60" x2="170.90" y2="1639.60"/>
<line x1="94.70" y1="1723.40" x2="170.90" y2="1723.40"/>
<line x1="98.80" y1="1577.20" x2="98.80" y2="1639.60"/>
<path class="ar" d="M98.80,1639.60 L95.05,1624.60 L102.55,1624.60 Z"/>
<line x1="98.80" y1="1723.40" x2="98.80" y2="1754.00"/>
<path class="ar" d="M98.80,1723.40 L102.55,1738.40 L95.05,1738.40 Z"/>
<text transform="translate(83.50,1600.50) rotate(-90)" x="0" y="7.52" font-size="21" text-anchor="middle">G1/2</text>
<path d="M322.7,1539 V1740" style="stroke-dasharray:80,4,3,4"/>
<line x1="693.30" y1="1291.30" x2="1023.10" y2="1291.30"/>
<path class="ar" d="M693.30,1291.30 L708.30,1287.55 L708.30,1295.05 Z"/>
<path class="ar" d="M1023.10,1291.30 L1008.10,1295.05 L1008.10,1287.55 Z"/>
<text transform="translate(858.50,1279.50) rotate(0)" x="0" y="7.52" font-size="21" text-anchor="middle">Ø168</text>
<line x1="693.30" y1="1288.40" x2="693.30" y2="1506.30"/>
<line x1="1023.10" y1="1288.40" x2="1023.10" y2="1506.30"/>
<circle cx="858.10" cy="1541.20" r="164.90"/>
<circle cx="858.10" cy="1541.20" r="161.20"/>
<circle cx="858.10" cy="1541.20" r="108.20"/>
<circle cx="858.10" cy="1483.90" r="22.40" class="th"/>
<line x1="825.20" y1="1483.90" x2="890.90" y2="1483.90"/>
<circle cx="858.10" cy="1580.90" r="55.00"/>
<circle cx="858.10" cy="1580.90" r="49.60"/>
<path d="M680.4,1541.2 H1035.7" style="stroke-dasharray:90,4,3,4"/>
<path d="M858.1,1367.5 V1773.6" style="stroke-dasharray:100,4,3,4"/>
<path d="M829.7,1580.9 Q829,1588 831.2,1597.3 Q836,1615 837.2,1633.1 L837,1760 Q837.3,1766 843,1766.6 Q858,1768 873,1766.6 Q878.8,1766 879.2,1760 L880.4,1648 Q880.8,1620 882,1603.3 Q886.4,1590 886.4,1580.9 A28.4,28.4 0 0 0 829.7,1580.9 Z" class="wf"/>
<path d="M858.1,1552 V1773.6" style="stroke-dasharray:150,4,3,4"/>
<line x1="792.40" y1="1580.90" x2="923.70" y2="1580.90"/>
<circle cx="858.10" cy="1580.90" r="17.50" class="wf"/>
<circle cx="858.10" cy="1580.90" r="15.50"/>
<circle cx="858.10" cy="1580.90" r="11.30"/>
<line x1="840.00" y1="1580.90" x2="876.00" y2="1580.90"/>
<line x1="858.10" y1="1563.00" x2="858.10" y2="1599.00"/>
<line x1="1138.00" y1="1292.00" x2="1328.40" y2="1292.00"/>
<path class="ar" d="M1212.20,1292.00 L1197.20,1295.75 L1197.20,1288.25 Z"/>
<path class="ar" d="M1291.60,1292.00 L1306.60,1288.25 L1306.60,1295.75 Z"/>
<text transform="translate(1165.70,1279.50) rotate(0)" x="0" y="7.52" font-size="21" text-anchor="middle">30~55</text>
<path d="M1212.2,1287 V1775.2" style="stroke-dasharray:90,4,3,4"/>
<line x1="1291.60" y1="1287.00" x2="1291.60" y2="1372.00"/>
<line x1="1109.80" y1="1345.80" x2="1259.60" y2="1345.80"/>
<path class="ar" d="M1194.00,1345.80 L1179.00,1349.55 L1179.00,1342.05 Z"/>
<path class="ar" d="M1231.40,1345.80 L1246.40,1342.05 L1246.40,1349.55 Z"/>
<text transform="translate(1132.70,1333.00) rotate(0)" x="0" y="7.52" font-size="21" text-anchor="middle">G1/2</text>
<line x1="1194.00" y1="1341.60" x2="1194.00" y2="1394.40"/>
<line x1="1231.40" y1="1341.60" x2="1231.40" y2="1394.40"/>
<path d="M1184.4,1425.8 V1402 Q1184.4,1399.2 1187.5,1399.2 H1236.8 Q1239.8,1399.2 1239.8,1402 V1425.8"/>
<rect x="1141.80" y="1425.80" width="116.20" height="222.40"/>
<rect x="1141.80" y="1431.20" width="9.60" height="28.80"/>
<line x1="1141.80" y1="1449.00" x2="1151.40" y2="1449.00"/>
<rect x="1141.80" y="1618.40" width="9.60" height="28.80"/>
<rect x="1247.40" y="1450.40" width="10.60" height="27.20"/>
<line x1="1247.40" y1="1468.00" x2="1258.00" y2="1468.00"/>
<rect x="1247.40" y="1632.80" width="10.60" height="28.80"/>
<path d="M1178.6,1648.2 V1667 Q1178.6,1669.6 1181.5,1669.6 H1243.3 Q1246.2,1669.6 1246.2,1667 V1648.2"/>
<line x1="1107.60" y1="1567.20" x2="1214.80" y2="1567.20"/>
<line x1="1107.60" y1="1616.20" x2="1214.80" y2="1616.20"/>
<line x1="1112.40" y1="1540.00" x2="1112.40" y2="1567.20"/>
<path class="ar" d="M1112.40,1567.20 L1108.65,1552.20 L1116.15,1552.20 Z"/>
<line x1="1112.40" y1="1616.20" x2="1112.40" y2="1672.80"/>
<path class="ar" d="M1112.40,1616.20 L1116.15,1631.20 L1108.65,1631.20 Z"/>
<line x1="1022.80" y1="1672.80" x2="1112.40" y2="1672.80"/>
<text transform="translate(1063.50,1661.00) rotate(0)" x="0" y="7.52" font-size="21" text-anchor="middle">2 x G1/2</text>
<circle cx="1212.50" cy="1592.00" r="30.70"/>
<circle cx="1212.00" cy="1591.50" r="24.30"/>
<circle cx="1212.50" cy="1592.00" r="22.30"/>
<circle cx="1212.50" cy="1592.00" r="17.30"/>
<path d="M1213.3,1584.7 L1226,1583.3 M1213.3,1584.7 V1592 Q1213.5,1595 1216,1595.3 L1228.7,1599.3"/>
<line x1="1178.00" y1="1592.00" x2="1248.40" y2="1592.00"/>
<path d="M1147.6,1480.8 H1288.4" style="stroke-dasharray:60,5,3,5"/>
<path d="M1154,1623.2 H1286.8" style="stroke-dasharray:55,5,3,5"/>
<line x1="1258.40" y1="1429.00" x2="1291.70" y2="1429.00"/>
<line x1="1258.40" y1="1448.90" x2="1291.70" y2="1448.90"/>
<line x1="1258.40" y1="1460.60" x2="1291.70" y2="1460.60"/>
<line x1="1258.40" y1="1480.40" x2="1291.70" y2="1480.40"/>
<line x1="1258.40" y1="1533.30" x2="1291.70" y2="1533.30"/>
<line x1="1258.40" y1="1548.00" x2="1291.70" y2="1548.00"/>
<line x1="1258.40" y1="1626.00" x2="1291.70" y2="1626.00"/>
<line x1="1258.40" y1="1631.30" x2="1291.70" y2="1631.30"/>
<line x1="1258.40" y1="1641.30" x2="1291.70" y2="1641.30"/>
<line x1="1258.40" y1="1645.30" x2="1291.70" y2="1645.30"/>
<path d="M1291.7,1376.4 L1310.4,1380.6 L1311.6,1382.2 L1314.6,1409.1 L1318.6,1433.7 V1650 L1314.6,1674.5 L1311.6,1701.4 L1310.4,1703.5 L1291.7,1707.3 Z"/>
<line x1="1294.50" y1="1380.00" x2="1294.50" y2="1705.00"/>
<line x1="1308.50" y1="1383.40" x2="1308.50" y2="1701.40"/>
<line x1="1318.60" y1="1462.90" x2="1373.50" y2="1462.90"/>
<line x1="1318.60" y1="1505.00" x2="1373.50" y2="1505.00"/>
<line x1="1373.50" y1="1462.90" x2="1373.50" y2="1505.00"/>
<path d="M1373.5,1466.4 H1401.6 Q1405,1466 1406,1463.5 Q1407.5,1462.5 1409,1462.9 Q1411,1463.5 1411,1466 V1500 Q1411,1502.7 1409,1503 Q1407,1503.5 1406,1502 Q1404,1502.7 1401.6,1502.7 H1373.5"/>
<line x1="1408.20" y1="1464.50" x2="1408.20" y2="1501.50"/>
<path d="M1277.2,1484 H1416.8" style="stroke-dasharray:45,4,3,4"/>
<line x1="1318.60" y1="1534.20" x2="1374.70" y2="1534.20"/>
<line x1="1318.60" y1="1625.40" x2="1374.70" y2="1625.40"/>
<rect x="1374.70" y="1537.70" width="3.50" height="85.40"/>
<path d="M1380,1527.2 Q1381.7,1527.5 1381.7,1530 V1632 Q1381.7,1634.8 1380,1634.8 Q1378.2,1634.8 1378.2,1632 V1530 Q1378.2,1527.2 1380,1527.2 Z"/>
<path d="M1381.7,1528.4 L1402.8,1531.9 Q1405,1545 1414.5,1560 M1381.7,1634.8 L1402.8,1631.3 Q1405,1617 1414.5,1600.9"/>
<line x1="1402.80" y1="1531.90" x2="1402.80" y2="1631.30"/>
<rect x="1414.50" y="1560.00" width="11.70" height="40.90"/>
<line x1="1426.20" y1="1555.30" x2="1426.20" y2="1560.00"/>
<path d="M1426.2,1555.3 L1453.5,1551.8 Q1455.4,1551.8 1455.4,1554 L1456.6,1768.1 L1437.5,1764 Q1435.5,1763.4 1435.5,1761 L1439,1620 Q1438,1605 1432,1601.5 L1426.2,1599.7"/>
<path d="M1435.5,1605.6 Q1438,1597 1446,1592.7"/>
<path d="M1456.6,1565.8 Q1459,1565.8 1459.5,1567 Q1467.1,1571 1467.1,1581 Q1467.1,1591 1459.5,1595 Q1459,1596.2 1456.6,1596.2"/>
<line x1="1459.50" y1="1567.00" x2="1459.50" y2="1595.00"/>
<path d="M1277.2,1581 H1474.1" style="stroke-dasharray:90,4,3,4"/>
<line x1="1114.00" y1="1738.40" x2="1266.00" y2="1738.40"/>
<path class="ar" d="M1187.00,1738.40 L1172.00,1742.15 L1172.00,1734.65 Z"/>
<path class="ar" d="M1237.80,1738.40 L1252.80,1734.65 L1252.80,1742.15 Z"/>
<text transform="translate(1137.20,1726.00) rotate(0)" x="0" y="7.52" font-size="21" text-anchor="middle">G3/4</text>
<line x1="1187.00" y1="1674.40" x2="1187.00" y2="1743.20"/>
<line x1="1237.80" y1="1674.40" x2="1237.80" y2="1743.20"/>
</svg></body></html>
